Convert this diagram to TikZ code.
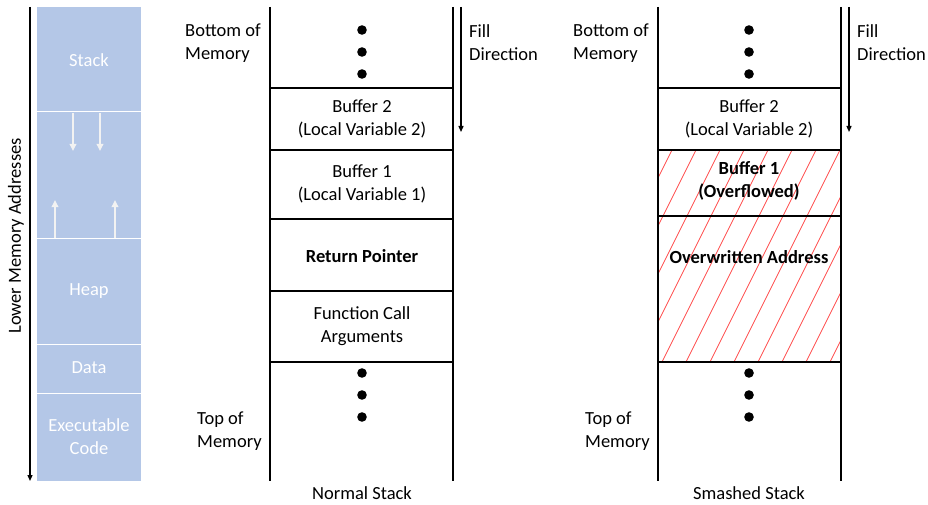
\documentclass[tikz,border=0pt]{standalone}
\usepackage{fontspec}
\setmainfont{Carlito}
\usetikzlibrary{arrows.meta}
\definecolor{memblue}{HTML}{B4C7E7}
\definecolor{arrwhite}{HTML}{F2F2F2}
\definecolor{hatchred}{HTML}{FF4B4B}
\begin{document}
\begin{tikzpicture}[x=1pt,y=-1pt,
  txt/.style={inner sep=0pt,align=center,font=\fontsize{18.5}{23}\selectfont},
  ltxt/.style={txt,anchor=west,align=left},
  wtxt/.style={txt,text=white},
  wall/.style={line width=1.3pt},
  dir/.style={line width=1.3pt,-{Triangle[length=6pt,width=5pt]}},
  memarrow/.style={arrwhite,line width=1.9pt,-{Triangle[length=7pt,width=6.5pt]}}]
\useasboundingbox (0,0) rectangle (928,505);
% memory layout
\fill[memblue] (37,7) rectangle (141,481);
\foreach \y in {112,238,344,393} \draw[white,line width=1pt] (37,\y)--(141,\y);
\node[wtxt] (stack) at (89,60){Stack};\node[wtxt] (heap) at (89,291){Heap};
\node[wtxt] (data) at (89,368){Data};\node[wtxt] (code) at (89,437){Executable\\Code};
\coordinate (s1) at (73,113);\coordinate (s1e) at (73,151);\draw[memarrow] (s1)--(s1e);
\coordinate (s2) at (100,113);\coordinate (s2e) at (100,151);\draw[memarrow] (s2)--(s2e);
\coordinate (h1) at (55,238);\coordinate (h1e) at (55,200);\draw[memarrow] (h1)--(h1e);
\coordinate (h2) at (115,238);\coordinate (h2e) at (115,200);\draw[memarrow] (h2)--(h2e);
\coordinate (la) at (30,7);\coordinate (lb) at (30,481);\draw[dir] (la)--(lb);
\node[txt,rotate=90] (lower) at (16,236){Lower Memory Addresses};
% normal stack
\draw[wall] (270,7)--(270,481);\draw[wall] (453,7)--(453,481);
\foreach \y in {88,150,219,291,362} \draw[wall] (270,\y)--(453,\y);
\foreach \y in {30,52,74,373,395,417} \fill (362,\y) circle (4.8);
\node[txt] (nb2) at (362,119){Buffer 2\\(Local Variable 2)};
\node[txt] (nb1) at (362,184){Buffer 1\\(Local Variable 1)};
\node[txt,font=\fontsize{18.5}{23}\selectfont\bfseries] (nret) at (362,256){Return Pointer};
\node[txt] (nargs) at (362,326){Function Call\\Arguments};
\node[ltxt] (nbot) at (185,43){Bottom of\\Memory};
\node[ltxt] (ntop) at (197,431){Top of\\Memory};
\coordinate (nf) at (461,7);\coordinate (nfe) at (461,132);\draw[dir] (nf)--(nfe);
\node[ltxt] (nfill) at (469,43){Fill\\Direction};
\node[txt] (nlbl) at (362,493){Normal Stack};
% smashed stack
\begin{scope}
\clip (658,150) rectangle (841,362);
\foreach \x in {542,566,...,854} \draw[hatchred,line width=0.8pt] (\x,362)--++(106,-212);
\end{scope}
\draw[wall] (658,7)--(658,481);\draw[wall] (841,7)--(841,481);
\foreach \y in {88,150,216,362} \draw[wall] (658,\y)--(841,\y);
\foreach \y in {30,52,74,373,395,417} \fill (749,\y) circle (4.8);
\node[txt] (sb2) at (749,119){Buffer 2\\(Local Variable 2)};
\node[txt,font=\fontsize{18.5}{23}\selectfont\bfseries] (sb1) at (749,181){Buffer 1\\(Overflowed)};
\node[txt,font=\fontsize{18.5}{23}\selectfont\bfseries] (sover) at (749,257){Overwritten Address};
\node[ltxt] (sbot) at (573,43){Bottom of\\Memory};
\node[ltxt] (stop) at (585,431){Top of\\Memory};
\coordinate (sf) at (849,7);\coordinate (sfe) at (849,132);\draw[dir] (sf)--(sfe);
\node[ltxt] (sfill) at (857,43){Fill\\Direction};
\node[txt] (slbl) at (749,493){Smashed Stack};
\end{tikzpicture}
\end{document}
